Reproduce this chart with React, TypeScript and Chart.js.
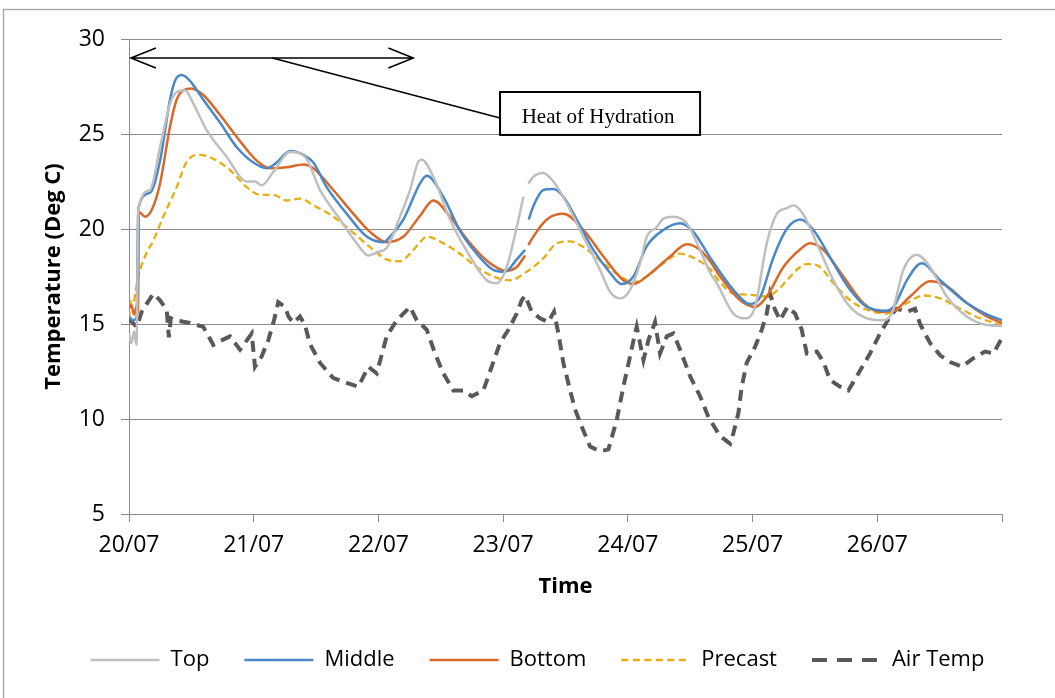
import React, { useEffect, useRef } from 'react';
import { Chart, registerables } from 'chart.js';

Chart.register(...registerables);

// ---------- data ----------
const dateLabels = ['20/07', '21/07', '22/07', '23/07', '24/07', '25/07', '26/07'];

const topDays = [0, 0.02, 0.04, 0.06, 0.075, 0.168, 0.249, 0.329, 0.382, 0.449, 0.516, 0.623, 0.783, 0.944, 1.01, 1.064, 1.157, 1.291, 1.411, 1.532, 1.692, 1.826, 1.919, 1.999, 2.066, 2.173, 2.253, 2.32, 2.347, 2.44, 2.574, 2.735, 2.868, 2.949, 3.029, 3.109, 3.162, 3.18, 3.202, 3.242, 3.322, 3.403, 3.51, 3.643, 3.777, 3.857, 3.937, 4.018, 4.098, 4.152, 4.232, 4.285, 4.365, 4.472, 4.579, 4.659, 4.713, 4.846, 4.953, 5.02, 5.114, 5.194, 5.274, 5.327, 5.408, 5.515, 5.648, 5.782, 5.916, 6.036, 6.116, 6.209, 6.316, 6.423, 6.557, 6.718, 6.878, 7.0];
const topTemps = [14.5, 14.0, 14.6, 13.9, 21.0, 22.05, 24.3, 26.6, 27.2, 27.3, 26.6, 25.2, 23.8, 22.5, 22.5, 22.3, 23.0, 24.05, 23.8, 22.05, 20.5, 19.25, 18.6, 18.8, 19.0, 20.65, 22.05, 23.55, 23.65, 22.75, 20.5, 18.55, 17.3, 17.15, 18.0, 20.1, 21.7, null, 22.4, 22.75, 22.95, 22.5, 21.35, 19.6, 17.85, 16.7, 16.35, 16.8, 18.2, 19.6, 20.1, 20.55, 20.65, 20.3, 18.9, 17.7, 17.15, 15.55, 15.3, 15.9, 19.25, 20.8, 21.1, 21.25, 20.75, 19.25, 17.3, 15.9, 15.3, 15.2, 15.55, 17.85, 18.65, 18.0, 16.45, 15.4, 14.95, 14.9];

const middleDays = [0, 0.03, 0.06, 0.075, 0.168, 0.249, 0.329, 0.369, 0.423, 0.489, 0.596, 0.73, 0.864, 0.997, 1.104, 1.184, 1.291, 1.398, 1.478, 1.585, 1.746, 1.906, 2.039, 2.093, 2.2, 2.334, 2.387, 2.52, 2.654, 2.788, 2.921, 3.015, 3.109, 3.176, 3.19, 3.205, 3.242, 3.322, 3.403, 3.483, 3.59, 3.723, 3.857, 3.951, 4.044, 4.152, 4.285, 4.419, 4.525, 4.659, 4.846, 4.98, 5.06, 5.167, 5.274, 5.385, 5.488, 5.648, 5.782, 5.916, 6.076, 6.14, 6.237, 6.357, 6.504, 6.718, 6.878, 7.0];
const middleTemps = [15.4, 15.2, 15.3, 21.1, 21.9, 23.6, 26.8, 27.8, 28.1, 27.8, 26.8, 25.6, 24.3, 23.5, 23.2, 23.5, 24.1, 23.9, 23.5, 22.2, 20.8, 19.6, 19.3, 19.6, 20.5, 22.4, 22.8, 21.7, 19.9, 18.7, 17.85, 17.75, 18.4, 18.9, null, 20.5, 21.2, 22.05, 22.1, 21.7, 20.5, 18.9, 17.7, 17.1, 17.5, 19.1, 19.95, 20.3, 19.85, 18.5, 16.8, 16.05, 16.4, 18.5, 20.0, 20.5, 19.95, 18.2, 16.8, 15.9, 15.7, 16.0, 17.3, 18.2, 17.3, 16.1, 15.5, 15.2];

const bottomDays = [0, 0.02, 0.04, 0.06, 0.072, 0.08, 0.128, 0.182, 0.249, 0.329, 0.382, 0.436, 0.503, 0.596, 0.73, 0.917, 1.024, 1.131, 1.264, 1.398, 1.478, 1.638, 1.799, 1.933, 2.066, 2.2, 2.334, 2.44, 2.574, 2.735, 2.895, 3.029, 3.109, 3.176, 3.19, 3.202, 3.242, 3.35, 3.483, 3.643, 3.804, 3.964, 4.044, 4.178, 4.338, 4.472, 4.579, 4.659, 4.739, 4.9, 5.02, 5.114, 5.247, 5.385, 5.461, 5.568, 5.728, 5.889, 6.022, 6.129, 6.263, 6.423, 6.557, 6.718, 6.878, 7.0];
const bottomTemps = [15.8, 16.0, 15.5, 15.9, 15.6, 20.9, 20.65, 21.0, 22.4, 25.4, 26.8, 27.3, 27.4, 27.05, 26.0, 24.4, 23.6, 23.2, 23.25, 23.4, 23.2, 22.05, 20.8, 19.85, 19.3, 19.6, 20.7, 21.5, 20.65, 19.25, 18.2, 17.8, 18.0, 18.6, null, 19.15, 19.6, 20.5, 20.8, 19.95, 18.55, 17.3, 17.1, 17.65, 18.55, 19.2, 18.9, 18.3, 17.5, 16.25, 15.9, 16.45, 18.0, 18.95, 19.25, 18.9, 17.5, 16.1, 15.65, 15.7, 16.45, 17.25, 17.0, 16.1, 15.4, 15.05];

const precastDays = [0, 0.02, 0.035, 0.05, 0.075, 0.128, 0.195, 0.275, 0.382, 0.463, 0.569, 0.676, 0.81, 0.944, 1.051, 1.157, 1.264, 1.371, 1.478, 1.638, 1.799, 1.959, 2.066, 2.173, 2.253, 2.334, 2.387, 2.52, 2.654, 2.788, 2.921, 3.055, 3.189, 3.322, 3.43, 3.537, 3.643, 3.777, 3.911, 4.044, 4.152, 4.285, 4.419, 4.552, 4.659, 4.739, 4.846, 4.953, 5.114, 5.221, 5.274, 5.435, 5.515, 5.648, 5.782, 5.916, 6.076, 6.237, 6.37, 6.504, 6.664, 6.824, 7.0];
const precastTemps = [15.3, 16.2, 16.1, 16.6, 17.5, 18.55, 19.4, 20.65, 22.2, 23.55, 23.9, 23.7, 23.1, 22.2, 21.8, 21.8, 21.5, 21.6, 21.25, 20.65, 19.8, 18.9, 18.4, 18.3, 18.7, 19.3, 19.6, 19.25, 18.7, 18.0, 17.5, 17.3, 17.75, 18.45, 19.25, 19.35, 19.05, 18.35, 17.65, 17.2, 17.5, 18.2, 18.7, 18.4, 17.9, 17.2, 16.6, 16.55, 16.45, 16.9, 17.3, 18.15, 18.1, 17.15, 16.25, 15.75, 15.55, 16.1, 16.5, 16.35, 15.8, 15.3, 14.95];

const airDays = [0, 0.008, 0.062, 0.102, 0.195, 0.249, 0.302, 0.32, 0.335, 0.369, 0.489, 0.596, 0.676, 0.73, 0.81, 0.89, 0.984, 1.01, 1.064, 1.117, 1.163, 1.197, 1.251, 1.278, 1.318, 1.371, 1.411, 1.451, 1.532, 1.638, 1.746, 1.839, 1.919, 1.986, 2.066, 2.147, 2.2, 2.253, 2.307, 2.387, 2.454, 2.52, 2.601, 2.681, 2.748, 2.841, 2.908, 2.975, 3.042, 3.109, 3.149, 3.176, 3.229, 3.296, 3.362, 3.408, 3.443, 3.483, 3.537, 3.577, 3.63, 3.697, 3.777, 3.844, 3.911, 3.964, 4.018, 4.044, 4.071, 4.125, 4.165, 4.218, 4.258, 4.312, 4.365, 4.419, 4.499, 4.579, 4.646, 4.739, 4.82, 4.846, 4.886, 4.913, 4.953, 5.02, 5.074, 5.114, 5.14, 5.18, 5.221, 5.279, 5.341, 5.394, 5.435, 5.515, 5.568, 5.622, 5.702, 5.768, 5.836, 5.942, 6.022, 6.103, 6.156, 6.237, 6.303, 6.343, 6.423, 6.504, 6.584, 6.678, 6.771, 6.864, 6.931, 6.998];
const airTemps = [15.3, 15.2, 14.85, 15.65, 16.6, 16.25, 15.75, 14.3, 15.3, 15.2, 15.05, 14.85, 13.9, 14.1, 14.35, 13.65, 14.5, 12.75, 13.3, 14.15, 15.2, 16.15, 15.9, 15.4, 15.05, 15.4, 14.95, 13.95, 12.95, 12.15, 11.9, 11.7, 12.75, 12.4, 14.35, 15.2, 15.55, 15.9, 15.2, 14.7, 13.45, 12.4, 11.5, 11.5, 11.2, 11.5, 12.75, 14.0, 14.7, 15.55, 16.25, 16.5, 15.65, 15.3, 15.1, 15.65, 14.5, 12.95, 11.5, 10.5, 9.6, 8.55, 8.3, 8.4, 9.95, 11.7, 13.3, 14.1, 14.85, 13.1, 14.15, 15.1, 13.45, 14.35, 14.5, 13.65, 12.25, 11.2, 10.1, 9.1, 8.7, 9.25, 10.3, 11.7, 12.95, 13.8, 14.7, 15.55, 16.6, 15.75, 15.2, 15.9, 15.55, 14.7, 13.45, 13.55, 13.0, 12.05, 11.7, 11.5, 12.25, 13.45, 14.5, 15.4, 15.8, 15.65, 15.8, 15.0, 14.0, 13.35, 13.0, 12.75, 13.2, 13.55, 13.45, 14.25];

// annotation (data coordinates)
const arrowStartDay = 0.015;
const arrowEndDay = 2.28;
const arrowTemp = 29.0;
const connectorStartDay = 1.15;
const boxLeftDay = 2.975;
const boxRightDay = 4.579;
const boxTopTemp = 27.21;
const boxBottomTemp = 24.95;
const connectorEndTemp = 25.84;
const annotationText = 'Heat of Hydration';

// styles
const FONT = '"Open Sans", sans-serif';
const GRID = '#8c8c8c';
const legendDashes: number[][] = [[], [], [], [7, 4.5], [15, 10]];

const toPoints = (days: number[], temps: (number | null)[]) =>
  days.map((d, i) => ({ x: d, y: temps[i] }));

const framePlugin = {
  id: 'frame',
  beforeDraw(chart: any) {
    const { ctx, width, height } = chart;
    ctx.save();
    ctx.fillStyle = '#ffffff';
    ctx.fillRect(0, 0, width, height);
    ctx.strokeStyle = '#a3a3a3';
    ctx.lineWidth = 1.3;
    ctx.strokeRect(3.5, 9.5, width + 20, height + 20);
    ctx.restore();
  },
};

const annotationPlugin = {
  id: 'hoh',
  afterDatasetsDraw(chart: any) {
    const { ctx, scales } = chart;
    const x = scales.x;
    const y = scales.y;
    const ay = y.getPixelForValue(arrowTemp);
    const ax0 = x.getPixelForValue(arrowStartDay);
    const ax1 = x.getPixelForValue(arrowEndDay);
    ctx.save();
    ctx.strokeStyle = '#000';
    ctx.lineWidth = 1.5;
    ctx.lineCap = 'butt';
    ctx.beginPath();
    ctx.moveTo(ax0, ay);
    ctx.lineTo(ax1, ay);
    ctx.moveTo(ax0 + 25, ay - 10);
    ctx.lineTo(ax0, ay);
    ctx.lineTo(ax0 + 25, ay + 10);
    ctx.moveTo(ax1 - 25, ay - 10);
    ctx.lineTo(ax1, ay);
    ctx.lineTo(ax1 - 25, ay + 10);
    ctx.stroke();
    const bx0 = x.getPixelForValue(boxLeftDay);
    const bx1 = x.getPixelForValue(boxRightDay);
    const by0 = y.getPixelForValue(boxTopTemp);
    const by1 = y.getPixelForValue(boxBottomTemp);
    ctx.beginPath();
    ctx.moveTo(x.getPixelForValue(connectorStartDay), ay);
    ctx.lineTo(bx0, y.getPixelForValue(connectorEndTemp));
    ctx.stroke();
    ctx.fillStyle = '#fff';
    ctx.fillRect(bx0, by0, bx1 - bx0, by1 - by0);
    ctx.lineWidth = 2;
    ctx.strokeRect(bx0, by0, bx1 - bx0, by1 - by0);
    ctx.fillStyle = '#000';
    ctx.font = '21px "Liberation Serif", "Times New Roman", serif';
    ctx.textAlign = 'center';
    ctx.textBaseline = 'alphabetic';
    ctx.fillText(annotationText, (bx0 + bx1) / 2 - 2, by0 + 30.5);
    ctx.restore();
  },
};

export default function App() {
  const canvasRef = useRef<HTMLCanvasElement | null>(null);

  useEffect(() => {
    if (!canvasRef.current) return;
    Chart.defaults.color = '#000';
    const chart = new Chart(canvasRef.current, {
      type: 'line',
      data: {
        datasets: [
          {
            label: 'Top',
            data: toPoints(topDays, topTemps),
            borderColor: '#BFBFBF',
            backgroundColor: '#BFBFBF',
            borderWidth: 2.5,
            pointRadius: 0,
            cubicInterpolationMode: 'monotone',
          },
          {
            label: 'Middle',
            data: toPoints(middleDays, middleTemps),
            borderColor: '#4A88C6',
            backgroundColor: '#4A88C6',
            borderWidth: 2.5,
            pointRadius: 0,
            cubicInterpolationMode: 'monotone',
          },
          {
            label: 'Bottom',
            data: toPoints(bottomDays, bottomTemps),
            borderColor: '#D8692A',
            backgroundColor: '#D8692A',
            borderWidth: 2.5,
            pointRadius: 0,
            cubicInterpolationMode: 'monotone',
          },
          {
            label: 'Precast',
            data: toPoints(precastDays, precastTemps),
            borderColor: '#E6AE10',
            backgroundColor: '#E6AE10',
            borderWidth: 2.3,
            borderDash: [7, 4],
            pointRadius: 0,
            cubicInterpolationMode: 'monotone',
          },
          {
            label: 'Air Temp',
            data: toPoints(airDays, airTemps),
            borderColor: '#595959',
            backgroundColor: '#595959',
            borderWidth: 4,
            borderDash: [11, 7],
            pointRadius: 0,
            tension: 0,
          },
        ],
      },
      options: {
        responsive: false,
        animation: false,
        events: [],
        layout: { padding: { left: 20, right: 0, top: 39, bottom: 17 } },
        plugins: {
          tooltip: { enabled: false },
          legend: {
            position: 'bottom',
            labels: {
              usePointStyle: true,
              pointStyle: 'line',
              pointStyleWidth: 69,
              boxHeight: 22,
              padding: 35,
              color: '#000',
              font: { family: FONT, size: 22 },
              generateLabels: (c: any) =>
                c.data.datasets.map((ds: any, i: number) => ({
                  text: ds.label,
                  fillStyle: ds.borderColor,
                  strokeStyle: ds.borderColor,
                  lineWidth: ds.borderWidth,
                  lineDash: legendDashes[i],
                  lineCap: 'butt',
                  pointStyle: 'line',
                  fontColor: '#000',
                  hidden: false,
                  datasetIndex: i,
                })),
            },
          },
        },
        scales: {
          x: {
            type: 'linear',
            min: 0,
            max: 7,
            afterFit: (s: any) => {
              s.height = 100;
            },
            ticks: {
              stepSize: 1,
              autoSkip: false,
              maxRotation: 0,
              padding: 10,
              color: '#000',
              font: { family: FONT, size: 23 },
              callback: (v: any) => dateLabels[v] ?? '',
            },
            grid: { drawOnChartArea: false, drawTicks: true, tickLength: 8, color: GRID },
            border: { display: true, color: GRID, width: 1 },
            title: {
              display: true,
              text: 'Time',
              color: '#000',
              font: { family: FONT, size: 22, weight: 'bold' },
              padding: { top: 0, bottom: 14 },
            },
          },
          y: {
            min: 5,
            max: 30,
            afterFit: (s: any) => {
              s.width = 109;
            },
            ticks: {
              stepSize: 5,
              padding: 16,
              color: '#000',
              font: { family: FONT, size: 23 },
            },
            grid: { color: GRID, tickLength: 8 },
            border: { display: true, color: GRID, width: 1 },
            title: {
              display: true,
              text: 'Temperature (Deg C)',
              color: '#000',
              font: { family: FONT, size: 22, weight: 'bold' },
              padding: { top: 21, bottom: 0 },
            },
          },
          yR: {
            type: 'linear',
            position: 'right',
            display: true,
            afterFit: (s: any) => {
              s.width = 53;
            },
            grid: { display: false, drawOnChartArea: false, drawTicks: false },
            ticks: { display: false },
            border: { display: false },
          },
        },
      },
      plugins: [framePlugin, annotationPlugin],
    } as any);
    return () => chart.destroy();
  }, []);

  return (
    <div style={{ position: 'absolute', left: 0, top: 0, width: 1055, height: 698, background: '#fff' }}>
      <canvas ref={canvasRef} width={1055} height={698} style={{ display: 'block' }} />
    </div>
  );
}
